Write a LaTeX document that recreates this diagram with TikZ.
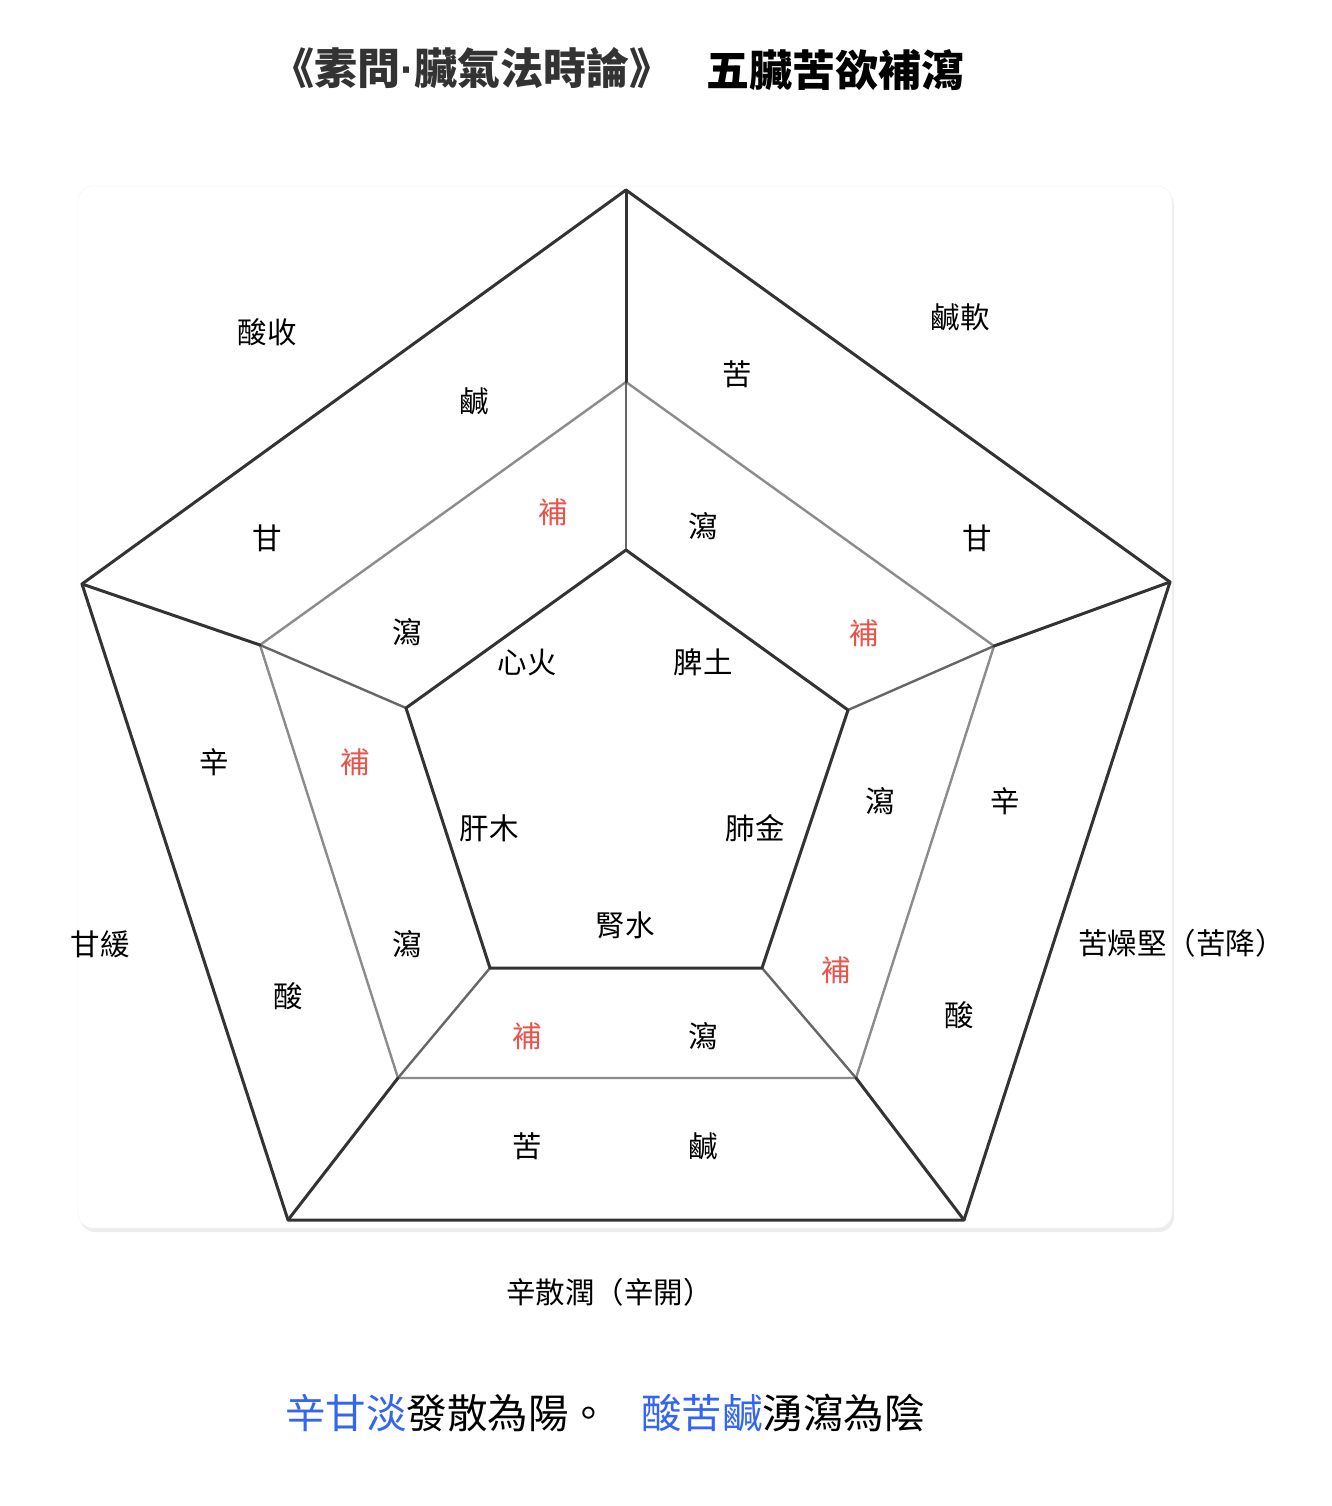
\documentclass[tikz,border=0pt]{standalone}
\usepackage{fontspec}
\setmainfont{Noto Sans CJK TC}
\newfontfamily\latinfont{Liberation Sans}
\definecolor{buRed}{HTML}{E8544A}
\definecolor{weiBlue}{HTML}{3366F0}
\tikzset{
  outerline/.style={line width=3pt,draw=black!80},
  midline/.style={line width=2.4pt,draw=black!45},
  spokein/.style={line width=2.4pt,draw=black!60},
  innerline/.style={line width=3pt,draw=black!80},
  bu/.style={text=buRed},
}
\begin{document}
\begin{tikzpicture}[x=1pt,y=-1pt,line join=round,line cap=round,font=\fontsize{29.5}{31}\selectfont]
	\useasboundingbox (0,0) rectangle (1332,1506);
	\fill[black!7,rounded corners=15pt] (80,190) rectangle (1174,1232);
	\filldraw[fill=white,draw=black!5,rounded corners=15pt] (78,186) rectangle (1172,1228);
	\foreach \n/\x/\y in {1/626/190,2/1170/582,3/964/1220,4/288/1220,5/82/584}
	\coordinate (o\n) at (\x,\y);
	\foreach \n/\x/\y in {1/626/382,2/994/646,3/856/1078,4/398/1078,5/260/645}
	\coordinate (m\n) at (\x,\y);
	\foreach \n/\x/\y in {1/626/550,2/848/710,3/762/968,4/490/968,5/406/708}
	\coordinate (i\n) at (\x,\y);
	\draw[midline] (m1)--(m2)--(m3)--(m4)--(m5)--cycle;
	\foreach \n in {1,...,5}
	\draw[spokein] (i\n)--(m\n);
	\foreach \n in {1,...,5}
	\draw[outerline] (m\n)--(o\n);
	\draw[outerline] (o1)--(o2)--(o3)--(o4)--(o5)--cycle;
	\draw[innerline] (i1)--(i2)--(i3)--(i4)--(i5)--cycle;
	\node[font=\bfseries\fontsize{43}{45}\selectfont,text=black!80] (title) at (472,68) {《素問{\latinfont\bfseries·}臟氣法時論》};
	\node[font=\bfseries\fontsize{43}{45}\selectfont] (subtitle) at (835,70) {五臟苦欲補瀉};
	\node (xin) at (527,662) {心火};
	\node (pi) at (703,662) {脾土};
	\node (gan) at (489,828) {肝木};
	\node (fei) at (755,828) {肺金};
	\node (shen) at (625,925) {腎水};
	\node (xinYu) at (267,332) {酸收};
	\node (xinXian) at (474,401) {鹹};
	\node[bu] (xinBu) at (553,512) {補};
	\node (xinGan) at (267,538) {甘};
	\node (xinXie) at (407,632) {瀉};
	\node (piYu) at (960,317) {鹹軟};
	\node (piKu) at (737,374) {苦};
	\node (piXie) at (703,526) {瀉};
	\node (piGan) at (977,538) {甘};
	\node[bu] (piBu) at (864,633) {補};
	\node (ganXin) at (214,762) {辛};
	\node[bu] (ganBu) at (355,762) {補};
	\node (ganYu) at (100,944) {甘緩};
	\node (ganXie) at (407,944) {瀉};
	\node (ganSuan) at (288,996) {酸};
	\node (feiXie) at (880,801) {瀉};
	\node (feiXin) at (1005,801) {辛};
	\node[anchor=west,inner sep=0pt] (feiYu) at (1078,943) {苦燥堅（苦降）};
	\node[bu] (feiBu) at (836,970) {補};
	\node (feiSuan) at (959,1015) {酸};
	\node[bu] (shenBu) at (527,1036) {補};
	\node (shenXie) at (703,1036) {瀉};
	\node (shenKu) at (527,1146) {苦};
	\node (shenXian) at (703,1146) {鹹};
	\node[anchor=west,inner sep=0pt] (shenYu) at (506,1292) {辛散潤（辛開）};
	\node[anchor=west,inner sep=0pt,font=\fontsize{40.5}{42}\selectfont] (yang) at (285,1413) {\textcolor{weiBlue}{辛甘淡}發散為陽。};
	\node[anchor=west,inner sep=0pt,font=\fontsize{40.5}{42}\selectfont] (yin) at (641,1413) {\textcolor{weiBlue}{酸苦鹹}湧瀉為陰};
\end{tikzpicture}
\end{document}
